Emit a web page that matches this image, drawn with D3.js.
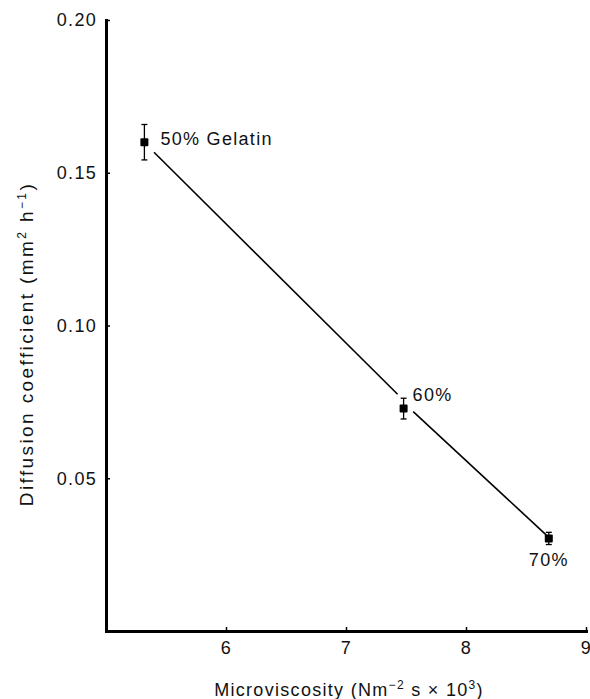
<!DOCTYPE html>
<html>
<head>
<meta charset="utf-8">
<script src="https://cdn.jsdelivr.net/npm/d3@7"></script>
<style>
  body { margin: 0; background: #fff; }
  svg { display: block; font-family: 'Liberation Sans', Arial, sans-serif; }
</style>
</head>
<body>
<div id="chart"></div>
<script>
// Data
const viscosity = [5.32, 7.48, 8.69];          // Nm^-2 s x 10^3
const diffusion = [0.160, 0.0728, 0.0303];     // mm^2 h^-1
const errors = [0.0058, 0.0034, 0.0020];
const pointLabels = ['50% Gelatin', '60%', '70%'];

// drawn line, in two pieces with gaps at the markers
const lineX = [[5.40, 7.43], [7.56, 8.67]];
const lineY = [[0.1567, 0.0775], [0.0718, 0.0314]];

const xTicks = [6, 7, 8, 9];
const yTicks = [0.05, 0.10, 0.15, 0.20];

const width = 590;
const height = 699;

const svg = d3.select('#chart')
  .append('svg')
  .attr('width', width)
  .attr('height', height);

const x = d3.scaleLinear().domain([5, 9]).range([106, 586]);
const y = d3.scaleLinear().domain([0, 0.20]).range([631, 20]);

const fontSize = 18;
const spacing = '1.3px';

// y axis, ticks pointing inward
const yAxis = svg.append('g')
  .attr('transform', `translate(${x(5)},0)`)
  .call(d3.axisLeft(y).tickValues(yTicks).tickFormat(d3.format('.2f'))
    .tickSizeInner(-4).tickSizeOuter(0).tickPadding(9));

// x axis
const xAxis = svg.append('g')
  .attr('transform', `translate(0,${y(0)})`)
  .call(d3.axisBottom(x).tickValues(xTicks).tickFormat(d3.format('d'))
    .tickSizeInner(-4).tickSizeOuter(0).tickPadding(10));

[xAxis, yAxis].forEach(g => {
  g.select('.domain').attr('stroke', '#000').attr('stroke-width', 3).attr('stroke-linecap', 'square');
  g.selectAll('.tick line').attr('stroke', '#000').attr('stroke-width', 1.5);
  g.selectAll('.tick text')
    .attr('fill', '#111')
    .attr('font-size', fontSize)
    .attr('letter-spacing', spacing)
    .attr('font-family', 'Liberation Sans, Arial, sans-serif');
});

// fitted line
const line = d3.line()
  .x(d => x(d[0]))
  .y(d => y(d[1]));

svg.append('g')
  .selectAll('path')
  .data(lineX.map((xs, i) => xs.map((v, j) => [v, lineY[i][j]])))
  .enter().append('path')
  .attr('d', line)
  .attr('fill', 'none')
  .attr('stroke', '#000')
  .attr('stroke-width', 1.6);

const pts = viscosity.map((v, i) => ({ x: v, y: diffusion[i], err: errors[i], label: pointLabels[i] }));

// error bars
const eb = svg.append('g').attr('stroke', '#000').attr('stroke-width', 1.3);
pts.forEach(d => {
  const cx = x(d.x);
  eb.append('line').attr('x1', cx).attr('x2', cx).attr('y1', y(d.y - d.err)).attr('y2', y(d.y + d.err));
  eb.append('line').attr('x1', cx - 3).attr('x2', cx + 3).attr('y1', y(d.y - d.err)).attr('y2', y(d.y - d.err));
  eb.append('line').attr('x1', cx - 3).attr('x2', cx + 3).attr('y1', y(d.y + d.err)).attr('y2', y(d.y + d.err));
});

// markers
svg.append('g')
  .selectAll('rect')
  .data(pts)
  .enter().append('rect')
  .attr('x', d => x(d.x) - 4)
  .attr('y', d => y(d.y) - 4)
  .attr('width', 8)
  .attr('height', 8)
  .attr('rx', 1)
  .attr('fill', '#000');

// point labels
const labelPos = [
  { dx: 16, dy: 2.5, anchor: 'start' },
  { dx: 9, dy: -8, anchor: 'start' },
  { dx: 0, dy: 28, anchor: 'middle' }
];
svg.append('g')
  .selectAll('text')
  .data(pts)
  .enter().append('text')
  .attr('x', (d, i) => x(d.x) + labelPos[i].dx)
  .attr('y', (d, i) => y(d.y) + labelPos[i].dy)
  .attr('text-anchor', (d, i) => labelPos[i].anchor)
  .attr('font-size', fontSize)
  .attr('letter-spacing', spacing)
  .attr('fill', '#111')
  .text(d => d.label);

// axis titles
const xTitle = svg.append('text')
  .attr('x', 349)
  .attr('y', 696)
  .attr('text-anchor', 'middle')
  .attr('font-size', fontSize)
  .attr('letter-spacing', spacing)
  .attr('fill', '#111');
xTitle.append('tspan').text('Microviscosity (Nm');
xTitle.append('tspan').attr('font-size', 12).attr('dy', -7).text('\u22122');
xTitle.append('tspan').attr('dy', 7).text(' s \u00d7 10');
xTitle.append('tspan').attr('font-size', 12).attr('dy', -7).text('3');
xTitle.append('tspan').attr('dy', 7).text(')');

const yTitle = svg.append('text')
  .attr('transform', 'translate(33,344) rotate(-90)')
  .attr('text-anchor', 'middle')
  .attr('font-size', 19)
  .attr('letter-spacing', '2.4px')
  .attr('fill', '#111');
yTitle.append('tspan').text('Diffusion coefficient (mm');
yTitle.append('tspan').attr('font-size', 12).attr('dy', -7).text('2');
yTitle.append('tspan').attr('dy', 7).text(' h');
yTitle.append('tspan').attr('font-size', 12).attr('dy', -7).text('\u22121');
yTitle.append('tspan').attr('dy', 7).text(')');
</script>
</body>
</html>
